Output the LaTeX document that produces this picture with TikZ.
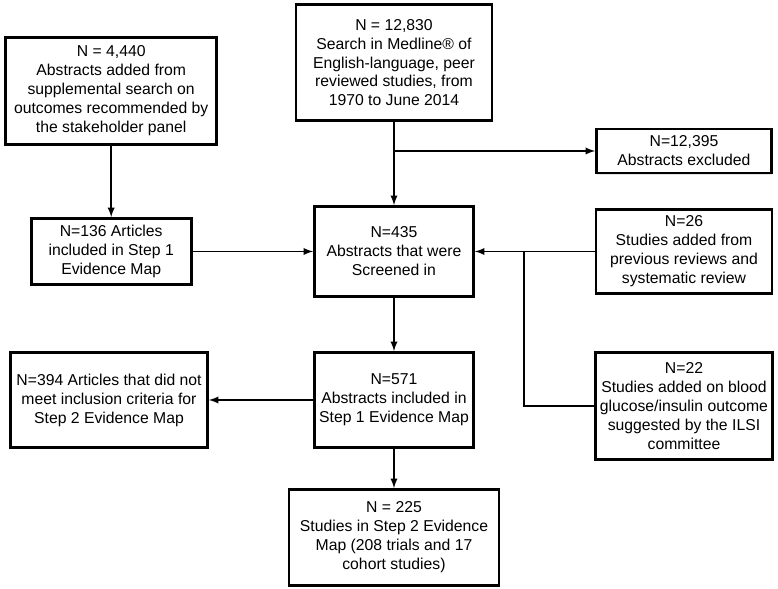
\documentclass[tikz,border=0pt]{standalone}
\usepackage{fontspec}
\setmainfont{Liberation Sans}
\usetikzlibrary{shadows}

\begin{document}
\begin{tikzpicture}[
		flowbox/.style={draw, line width=2pt, fill=white, align=center, inner sep=1pt,
			font=\fontsize{11.2}{13.5}\selectfont,
			drop shadow={shadow xshift=0.3pt, shadow yshift=-1.2pt, fill=gray!60, opacity=0.35}},
		link/.style={line width=1.3pt}
	]
				\useasboundingbox (0, 0) rectangle (19.45, 14.725);
				\node [flowbox, minimum width=5.275cm, minimum height=2.675cm] (supp) at (2.78, 12.45) {N = 4,440\\Abstracts added from\\supplemental search on\\outcomes recommended by\\the stakeholder panel};
				\node [flowbox, minimum width=4.9cm, minimum height=2.9cm] (medline) at (9.85, 13.16) {N = 12,830\\Search in Medline\textregistered{} of\\English-language, peer\\reviewed studies, from\\1970 to June 2014};
				\node [flowbox, minimum width=4.375cm, minimum height=1.1cm] (excl) at (17.1, 10.95) {N=12,395\\Abstracts excluded};
				\node [flowbox, minimum width=4.0cm, minimum height=1.65cm] (art136) at (2.78, 8.4375) {N=136 Articles\\included in Step 1\\Evidence Map};
				\node [flowbox, minimum width=3.975cm, minimum height=2.25cm] (scr) at (9.85, 8.4375) {N=435\\Abstracts that were\\Screened in};
				\node [flowbox, minimum width=4.4cm, minimum height=2.1cm] (prev) at (17.1, 8.4375) {N=26\\Studies added from\\previous reviews and\\systematic review};
				\node [flowbox, minimum width=3.975cm, minimum height=2.375cm] (inc571) at (9.85, 4.725) {N=571\\Abstracts included in\\Step 1 Evidence Map};
				\node [flowbox, minimum width=4.925cm, minimum height=2.375cm] (notmet) at (2.725, 4.725) {N=394 Articles that did not\\meet inclusion criteria for\\Step 2 Evidence Map};
				\node [flowbox, minimum width=4.425cm, minimum height=2.675cm] (ilsi) at (17.1, 4.575) {N=22\\Studies added on blood\\glucose/insulin outcome\\suggested by the ILSI\\committee};
				\node [flowbox, minimum width=5.25cm, minimum height=2.4cm] (step2) at (9.85, 1.2875) {N = 225\\Studies in Step 2 Evidence\\Map (208 trials and 17\\cohort studies)};
				\coordinate (split) at (9.85, 10.95);
				\coordinate (join) at (13.1, 8.4375);
				\draw [link] (medline) -- (split);
				\draw [link, -latex] (split) -- (scr);
				\draw [link, -latex] (split) -- (excl);
				\draw [link, -latex] (supp) -- (art136);
				\draw [link, -latex] (art136) -- (scr);
				\draw [link, -latex] (prev) -- (scr);
				\draw [link] (ilsi.west) -| (join);
				\draw [link, -latex] (scr) -- (inc571);
				\draw [link, -latex] (inc571) -- (notmet);
				\draw [link, -latex] (inc571) -- (step2);
			\end{tikzpicture}
\end{document}
